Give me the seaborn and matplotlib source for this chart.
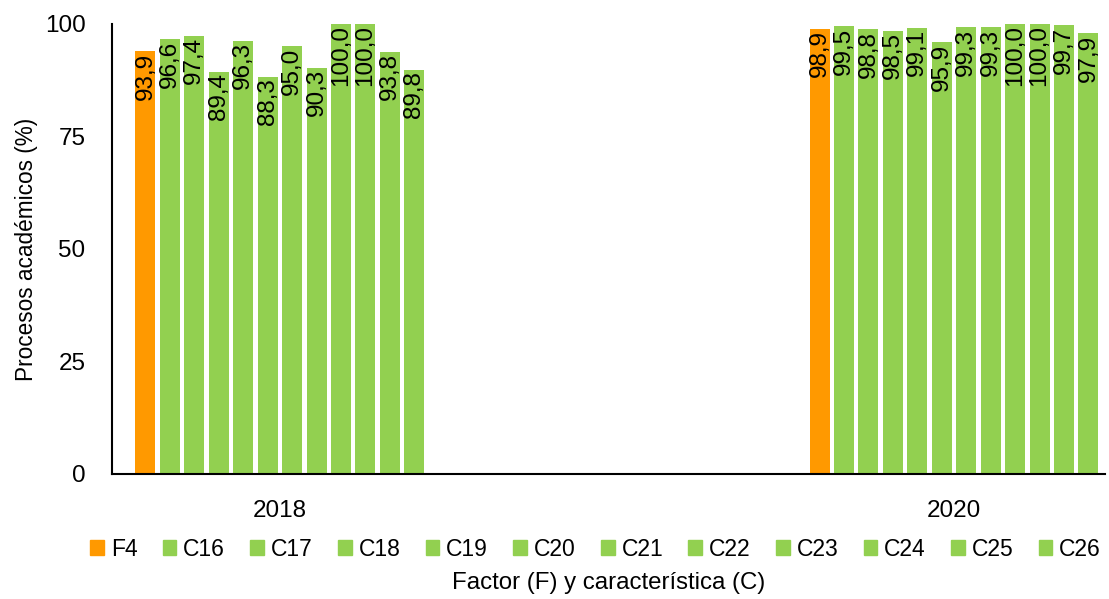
import pandas as pd
import matplotlib
matplotlib.use('Agg')
import matplotlib.pyplot as plt
import matplotlib.patches as mpatches
import seaborn as sns

years  = ['2018', '2020']
series = ['F4', 'C16', 'C17', 'C18', 'C19', 'C20', 'C21', 'C22', 'C23', 'C24', 'C25', 'C26']
v2018  = [93.9, 96.6, 97.4, 89.4, 96.3, 88.3, 95.0, 90.3, 100.0, 100.0, 93.8, 89.8]
v2020  = [98.9, 99.5, 98.8, 98.5, 99.1, 95.9, 99.3, 99.3, 100.0, 100.0, 99.7, 97.9]

ORANGE = "#FF9900"
GREEN  = "#92D050"
palette = {s: (ORANGE if s.startswith('F') else GREEN) for s in series}

df = pd.DataFrame({
    'year':  [y for y in years for _ in series],
    'serie': series * 2,
    'value': v2018 + v2020,
})

sns.set_style('white')
plt.rcParams['font.family'] = ['Liberation Sans', 'DejaVu Sans']
plt.rcParams['text.color'] = 'black'

fig = plt.figure(figsize=(11.09, 5.99), dpi=100)
ax = fig.add_axes([0.101, 0.2087, 0.8954, 0.7513])

sns.barplot(data=df, x='year', y='value', hue='serie', hue_order=series, order=years,
            palette=palette, width=0.435, gap=0.18, ax=ax, legend=False,
            edgecolor='none', saturation=1)

# value labels, rotated, inside top of each bar
for cont in ax.containers:
    for bar in cont:
        h = bar.get_height()
        ax.text(bar.get_x() + bar.get_width() / 2, h - 0.3, f'{h:.1f}'.replace('.', ','),
                rotation=90, ha='center', va='top', fontsize=17.5, color='black')

ax.set_xlim(-0.249, 1.224)
ax.set_ylim(0, 100)
ax.set_yticks([0, 25, 50, 75, 100])
ax.tick_params(axis='both', length=0, labelsize=17.5, colors='black')
ax.tick_params(axis='y', pad=19)
ax.tick_params(axis='x', pad=19)
for s in ['top', 'right']:
    ax.spines[s].set_visible(False)
for s in ['left', 'bottom']:
    ax.spines[s].set_color('black')
    ax.spines[s].set_linewidth(1.5)

ax.set_ylabel('Procesos académicos (%)', fontsize=16.3, color='black')
ax.yaxis.set_label_coords(-0.0866, 0.5)
ax.yaxis.label.set_va('center')
ax.set_xlabel('Factor (F) y característica (C)', fontsize=17.3, color='black')
ax.xaxis.set_label_coords(0.5, -0.243)
ax.xaxis.label.set_va('center')

handles = [mpatches.Patch(color=palette[s], label=s) for s in series]
fig.legend(handles=handles, loc='center', bbox_to_anchor=(0.537, 0.083), ncol=12,
           frameon=False, fontsize=16.5, handlelength=0.6, handleheight=0.6,
           handletextpad=0.3, columnspacing=1.1, labelcolor='black')

fig.savefig('out.png', dpi=100)
